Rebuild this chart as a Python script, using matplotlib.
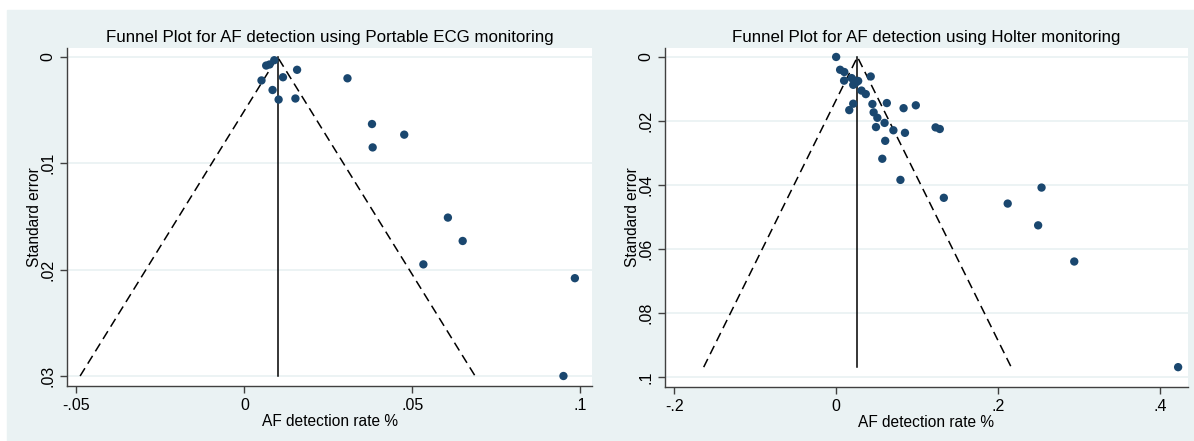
import numpy as np
import matplotlib
matplotlib.use('Agg')
import matplotlib.pyplot as plt
from matplotlib.patches import Rectangle
from matplotlib.ticker import FuncFormatter

plt.rcParams['font.family'] = ['Liberation Sans', 'DejaVu Sans']

# Portable ECG monitoring: detection rate and standard error per study
ecg_rate = [0.0065, 0.0075, 0.0089, 0.0051, 0.0115, 0.0157, 0.0084, 0.0102, 0.0152,
            0.0307, 0.0380, 0.0476, 0.0382, 0.0606, 0.0650, 0.0533, 0.0984, 0.0950]
ecg_se = [0.0008, 0.0007, 0.0003, 0.0022, 0.0019, 0.0012, 0.0031, 0.0040, 0.0039,
          0.0020, 0.0063, 0.0073, 0.0085, 0.0151, 0.0173, 0.0195, 0.0208, 0.0300]
ecg_pooled = 0.0099

# Holter monitoring
holter_rate = [0.0, 0.0049, 0.0101, 0.0098, 0.0191, 0.0232, 0.0272, 0.0211, 0.0244,
               0.0427, 0.0313, 0.0366, 0.0211, 0.0162, 0.0448, 0.0626, 0.0833, 0.0984,
               0.0463, 0.0509, 0.0598, 0.0492, 0.0707, 0.0850, 0.1228, 0.1280, 0.0606,
               0.0570, 0.0794, 0.2537, 0.1330, 0.2119, 0.2495, 0.2941, 0.4224]
holter_se = [0.0, 0.0040, 0.0047, 0.0074, 0.0066, 0.0074, 0.0075, 0.0087, 0.0080,
             0.0061, 0.0105, 0.0116, 0.0146, 0.0166, 0.0147, 0.0144, 0.0160, 0.0151,
             0.0173, 0.0190, 0.0206, 0.0219, 0.0229, 0.0237, 0.0220, 0.0225, 0.0262,
             0.0318, 0.0384, 0.0408, 0.0440, 0.0458, 0.0526, 0.0639, 0.0969]
holter_pooled = 0.0263

bg = '#eaf2f3'
navy = '#1a476f'
axcol = '#404040'


def stata_fmt(v, pos):
    s = ('%g' % round(v, 6))
    if s.startswith('0.'):
        s = s[1:]
    elif s.startswith('-0.'):
        s = '-' + s[2:]
    return s


def funnel(ax, rate, se, pooled, title, xticks, yticks, xlim, ylim):
    ax.set_facecolor('white')
    smax = max(se)
    ax.plot([pooled - 1.96 * smax, pooled, pooled + 1.96 * smax], [smax, 0, smax],
            color='black', lw=1.1, dashes=(6, 3.5), zorder=2)
    ax.plot([pooled, pooled], [0, smax], color='black', lw=1.1, zorder=2)
    ax.scatter(rate, se, s=36, color=navy, edgecolors='none', zorder=3)
    ax.set_xlim(*xlim)
    ax.set_ylim(ylim[1], ylim[0])
    ax.set_xticks(xticks)
    ax.set_yticks(yticks)
    ax.xaxis.set_major_formatter(FuncFormatter(stata_fmt))
    ax.yaxis.set_major_formatter(FuncFormatter(stata_fmt))
    ax.grid(axis='y', color=bg, lw=1.3, zorder=0)
    ax.set_axisbelow(True)
    for side in ['top', 'right']:
        ax.spines[side].set_visible(False)
    for side in ['left', 'bottom']:
        ax.spines[side].set_color(axcol)
        ax.spines[side].set_linewidth(1.0)
    ax.tick_params(axis='both', direction='out', length=5, width=1.0, color=axcol,
                   labelsize=11.5, labelcolor='black', pad=3.5)
    plt.setp(ax.get_yticklabels(), rotation=90, va='center')
    ax.set_title(title, fontsize=12.2, pad=4)
    ax.set_xlabel('AF detection rate %', fontsize=11.2, labelpad=1)
    ax.set_ylabel('Standard error', fontsize=11.2, labelpad=-1)


fig = plt.figure(figsize=(11.94, 4.41), dpi=100, facecolor='white')
fig.patches.append(Rectangle((7 / 1194, 0), 1 - 7 / 1194, 1 - 10 / 441,
                             transform=fig.transFigure, color=bg, zorder=-10))

ax1 = fig.add_axes([67 / 1194, 55 / 441, 525 / 1194, 338 / 441])
ax2 = fig.add_axes([665 / 1194, 54 / 441, 523 / 1194, 339 / 441])

funnel(ax1, ecg_rate, ecg_se, ecg_pooled,
       'Funnel Plot for AF detection using Portable ECG monitoring',
       [-0.05, 0, 0.05, 0.1], [0, 0.01, 0.02, 0.03],
       (-0.0528, 0.1035), (-0.00085, 0.03094))
funnel(ax2, holter_rate, holter_se, holter_pooled,
       'Funnel Plot for AF detection using Holter monitoring',
       [-0.2, 0, 0.2, 0.4], [0, 0.02, 0.04, 0.06, 0.08, 0.1],
       (-0.2114, 0.4346), (-0.0028, 0.1031))

fig.savefig('out.png', dpi=100, facecolor='white')
